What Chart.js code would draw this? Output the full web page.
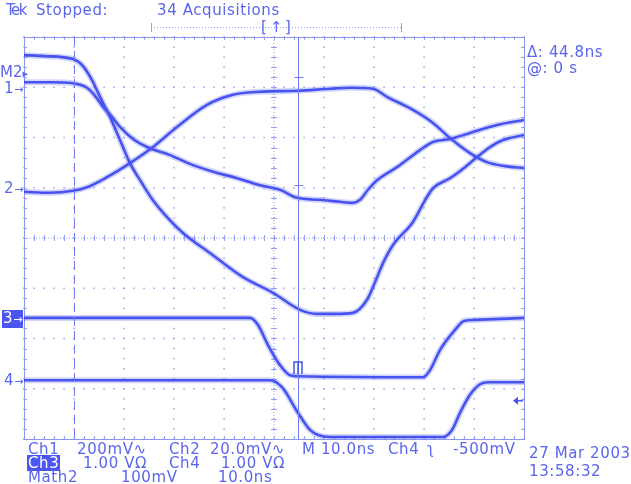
<!DOCTYPE html>
<html lang="en">
<head>
<meta charset="UTF-8">
<title>Tek TDS capture</title>
<script src="https://cdn.jsdelivr.net/npm/chart.js"></script>
<style>
    body { margin: 0; background: #fff; }
    #wrap { position: relative; width: 631px; height: 484px; overflow: hidden;
            font-family: "DejaVu Sans", sans-serif; font-size: 15px; letter-spacing: 0.6px; color: #5a65ee; }
    #wrap canvas { position: absolute; left: 0; top: 0; }
    .t { position: absolute; white-space: nowrap; line-height: 16px; }
    .hl { background: #4b56f0; color: #fff; padding: 0 1px; }
    .arr { font-size: 11px; letter-spacing: 0; }
</style>
</head>
<body>
<div id="wrap">
    <canvas id="scope" width="631" height="484"></canvas>

    <div class="t" style="left:6px;top:2px;letter-spacing:-1.5px">Tek</div>
    <div class="t" style="left:36px;top:2px">Stopped:</div>
    <div class="t" style="left:157px;top:2px">34 Acquisitions</div>
    <div class="t" style="left:261px;top:19px">[</div>
    <div class="t" style="left:270px;top:19px">↑</div>
    <div class="t" style="left:285px;top:19px">]</div>

    <div class="t" style="left:0px;top:64px;letter-spacing:0">M2<span class="arr">▸</span></div>
    <div class="t" style="left:4px;top:80px">1<span class="arr">→</span></div>
    <div class="t" style="left:4px;top:180px">2<span class="arr">→</span></div>
    <div class="t hl" style="left:2px;top:310px">3<span class="arr">→</span></div>
    <div class="t" style="left:4px;top:372px">4<span class="arr">→</span></div>

    <div class="t" style="left:527px;top:44px">Δ: 44.8ns</div>
    <div class="t" style="left:527px;top:60px">@: 0 s</div>

    <div class="t" style="left:28px;top:441px">Ch1</div>
    <div class="t" style="left:77px;top:441px">200mV∿</div>
    <div class="t" style="left:169px;top:441px">Ch2</div>
    <div class="t" style="left:210px;top:441px">20.0mV∿</div>
    <div class="t" style="left:302px;top:441px">M 10.0ns</div>
    <div class="t" style="left:388px;top:441px">Ch4</div>
    <div class="t" style="left:427px;top:441px">ʅ</div>
    <div class="t" style="left:453px;top:441px">-500mV</div>

    <div class="t hl" style="left:27px;top:455px">Ch3</div>
    <div class="t" style="left:83px;top:455px">1.00 VΩ</div>
    <div class="t" style="left:169px;top:455px">Ch4</div>
    <div class="t" style="left:221px;top:455px">1.00 VΩ</div>

    <div class="t" style="left:28px;top:469px">Math2</div>
    <div class="t" style="left:121px;top:469px">100mV</div>
    <div class="t" style="left:218px;top:469px">10.0ns</div>

    <div class="t" style="left:529px;top:445px">27 Mar 2003</div>
    <div class="t" style="left:529px;top:463px">13:58:32</div>
</div>
<script>
// time in ns across the screen (10 ns/div), levels in screen divisions (0 = centre)
const gridX = [0, 10, 20, 30, 40, 50, 60, 70, 80, 90, 100];
const gridY = [-4, -3, -2, -1, 0, 1, 2, 3, 4];

const math2Time = [0, 4.2, 9.8, 11.8, 13.6, 15.2, 17.2, 19.2, 21.2, 23.6, 25.8, 28.2, 31.8, 37.2, 43.8, 49.8,
                   55.2, 58.6, 62.2, 65.8, 68.6, 70.2, 71.8, 73.8, 77.8, 80.2, 81.8, 85.2, 88.2, 90.6, 93.2, 95.8, 100];
const math2Div  = [3.64, 3.62, 3.56, 3.42, 3.14, 2.81, 2.41, 1.95, 1.49, 1.09, 0.75, 0.46, 0.10, -0.30, -0.78, -1.09,
                   -1.43, -1.51, -1.51, -1.49, -1.23, -0.88, -0.50, -0.14, 0.32, 0.75, 0.99, 1.19, 1.41, 1.61, 1.81, 1.95, 2.05];

const ch1Time = [0, 5.2, 9.8, 12.6, 14.2, 15.8, 17.6, 19.2, 21.8, 24.6, 29.2, 33.8, 38.2, 42.6, 47.2,
                 51.2, 54.6, 59.2, 63.2, 65.8, 67.2, 68.8, 70.6, 74.6, 79.2, 81.8, 85.2, 89.2, 94.6, 100];
const ch1Div  = [3.10, 3.10, 3.08, 2.99, 2.83, 2.61, 2.41, 2.21, 1.97, 1.81, 1.65, 1.45, 1.31, 1.19, 1.05,
                 0.96, 0.80, 0.76, 0.72, 0.70, 0.76, 0.96, 1.15, 1.41, 1.75, 1.91, 1.97, 2.09, 2.25, 2.35];

const ch2Time = [0, 5.2, 9.8, 12.6, 16.6, 21.2, 25.8, 30.6, 36.6, 41.8, 47.2, 54.8,
                 61.2, 65.2, 69.8, 72.6, 77.8, 81.8, 85.2, 89.2, 92.6, 96.2, 100];
const ch2Div  = [0.92, 0.90, 0.94, 1.01, 1.21, 1.49, 1.81, 2.21, 2.65, 2.85, 2.91, 2.93,
                 2.97, 2.99, 2.97, 2.81, 2.55, 2.29, 1.99, 1.69, 1.51, 1.43, 1.39];

const ch3Time = [0, 45.2, 46.8, 48.8, 51.2, 53.2, 55.2, 79.8, 81.2, 83.2, 86.2, 88.0, 90.2, 100];
const ch3Div  = [-1.59, -1.59, -1.73, -2.13, -2.53, -2.73, -2.75, -2.77, -2.63, -2.23, -1.83, -1.65, -1.63, -1.59];

const ch4Time = [0, 49.2, 51.6, 54.8, 57.2, 58.8, 61.2, 83.8, 85.6, 87.2, 89.2, 91.2, 92.8, 100];
const ch4Div  = [-2.83, -2.83, -2.97, -3.48, -3.82, -3.92, -3.96, -3.96, -3.82, -3.48, -3.12, -2.91, -2.87, -2.87];

// cursors: dashed at 10 ns, solid at 54.8 ns (delta 44.8 ns)
const cursorTimes = [10, 54.8];
const cursorMarks = [3.2, 1.05];
const triggerLevel = -3.24;
const triggerPoint = [54.8, -2.47];

const traceColor = '#4753f0';
const haloColor = 'rgba(95, 105, 242, 0.28)';
const gridColor = '#96a0f3';

function pts(xs, ys) {
    return xs.map((t, i) => ({ x: t, y: ys[i] }));
}

const traces = [
    pts(math2Time, math2Div),
    pts(ch1Time, ch1Div),
    pts(ch2Time, ch2Div),
    pts(ch3Time, ch3Div),
    pts(ch4Time, ch4Div)
];

const datasets = [];
traces.forEach(d => {
    datasets.push({ data: d, borderColor: traceColor, borderWidth: 2.6, order: 0 });
    datasets.push({ data: d, borderColor: haloColor, borderWidth: 6, order: 1 });
});

const graticule = {
    id: 'graticule',
    beforeDatasetsDraw(chart) {
        const { ctx, chartArea: a, scales: { x, y } } = chart;
        ctx.save();
        ctx.fillStyle = gridColor;
        // dotted division lines, one dot per fifth of a division
        gridX.forEach(t => {
            const px = x.getPixelForValue(t);
            for (let v = gridY[0]; v <= gridY[gridY.length - 1] + 0.001; v += 0.2) {
                ctx.fillRect(px - 0.7, y.getPixelForValue(v) - 0.7, 1.5, 1.5);
            }
        });
        gridY.forEach(v => {
            const py = y.getPixelForValue(v);
            for (let t = gridX[0]; t <= gridX[gridX.length - 1] + 0.001; t += 2) {
                ctx.fillRect(x.getPixelForValue(t) - 0.7, py - 0.7, 1.5, 1.5);
            }
        });
        // centre axes with minor ticks
        const cx = x.getPixelForValue(50);
        const cy = y.getPixelForValue(0);
        ctx.strokeStyle = gridColor;
        ctx.lineWidth = 1;
        ctx.setLineDash([1, 2]);
        ctx.beginPath();
        ctx.moveTo(a.left, cy); ctx.lineTo(a.right, cy);
        ctx.moveTo(cx, a.top); ctx.lineTo(cx, a.bottom);
        ctx.stroke();
        ctx.setLineDash([]);
        ctx.beginPath();
        for (let t = 0; t <= 100.001; t += 2) {
            const px = Math.round(x.getPixelForValue(t)) + 0.5;
            ctx.moveTo(px, cy - 3); ctx.lineTo(px, cy + 3);
            ctx.moveTo(px, a.top); ctx.lineTo(px, a.top + 3);
            ctx.moveTo(px, a.bottom); ctx.lineTo(px, a.bottom - 3);
        }
        for (let v = -4; v <= 4.001; v += 0.2) {
            const py = Math.round(y.getPixelForValue(v)) + 0.5;
            ctx.moveTo(cx - 3, py); ctx.lineTo(cx + 3, py);
            ctx.moveTo(a.left, py); ctx.lineTo(a.left + 3, py);
            ctx.moveTo(a.right, py); ctx.lineTo(a.right - 3, py);
        }
        ctx.stroke();
        // frame
        ctx.strokeStyle = '#8a94f2';
        ctx.strokeRect(Math.round(a.left) + 0.5, Math.round(a.top) + 0.5,
                       Math.round(a.right - a.left), Math.round(a.bottom - a.top));
        // record bar above the screen
        ctx.strokeStyle = gridColor;
        ctx.setLineDash([1, 2]);
        ctx.beginPath();
        ctx.moveTo(151, 27.5); ctx.lineTo(401, 27.5);
        ctx.stroke();
        ctx.setLineDash([]);
        ctx.beginPath();
        ctx.moveTo(151.5, 23); ctx.lineTo(151.5, 32);
        ctx.moveTo(401.5, 23); ctx.lineTo(401.5, 32);
        ctx.stroke();
        ctx.restore();
    },
    afterDatasetsDraw(chart) {
        const { ctx, chartArea: a, scales: { x, y } } = chart;
        ctx.save();
        ctx.strokeStyle = '#6f7bf2';
        ctx.lineWidth = 1;
        const c1 = Math.round(x.getPixelForValue(cursorTimes[0])) + 0.5;
        const c2 = Math.round(x.getPixelForValue(cursorTimes[1])) + 0.5;
        ctx.setLineDash([9, 5]);
        ctx.beginPath();
        ctx.moveTo(c1, a.top); ctx.lineTo(c1, a.bottom);
        ctx.stroke();
        ctx.setLineDash([]);
        ctx.beginPath();
        ctx.moveTo(c2, a.top); ctx.lineTo(c2, a.bottom);
        cursorMarks.forEach(v => {
            const py = Math.round(y.getPixelForValue(v)) + 0.5;
            ctx.moveTo(c2 - 4, py); ctx.lineTo(c2 + 5, py);
        });
        ctx.stroke();
        // trigger point marker
        ctx.strokeStyle = traceColor;
        ctx.lineWidth = 1.5;
        const tx = x.getPixelForValue(triggerPoint[0]);
        const ty = y.getPixelForValue(triggerPoint[1]);
        ctx.beginPath();
        ctx.moveTo(tx - 4, ty + 12); ctx.lineTo(tx - 4, ty); ctx.lineTo(tx + 4, ty); ctx.lineTo(tx + 4, ty + 12);
        ctx.moveTo(tx, ty); ctx.lineTo(tx, ty + 12);
        ctx.stroke();
        // trigger level arrow on the right edge
        const ly = y.getPixelForValue(triggerLevel);
        ctx.fillStyle = traceColor;
        ctx.beginPath();
        ctx.moveTo(a.right - 11, ly); ctx.lineTo(a.right - 6, ly - 4); ctx.lineTo(a.right - 6, ly + 4);
        ctx.closePath();
        ctx.fill();
        ctx.beginPath();
        ctx.moveTo(a.right - 7, ly); ctx.lineTo(a.right - 1, ly);
        ctx.stroke();
        ctx.restore();
    }
};

new Chart(document.getElementById('scope'), {
    type: 'line',
    data: { datasets: datasets },
    options: {
        responsive: false,
        animation: false,
        layout: { padding: { left: 24, right: 107, top: 37, bottom: 45 } },
        elements: {
            point: { radius: 0 },
            line: { cubicInterpolationMode: 'monotone', fill: false }
        },
        scales: {
            x: { type: 'linear', min: gridX[0], max: gridX[gridX.length - 1], display: false },
            y: { type: 'linear', min: gridY[0], max: gridY[gridY.length - 1], display: false }
        },
        plugins: { legend: { display: false }, tooltip: { enabled: false } }
    },
    plugins: [graticule]
});
</script>
</body>
</html>
